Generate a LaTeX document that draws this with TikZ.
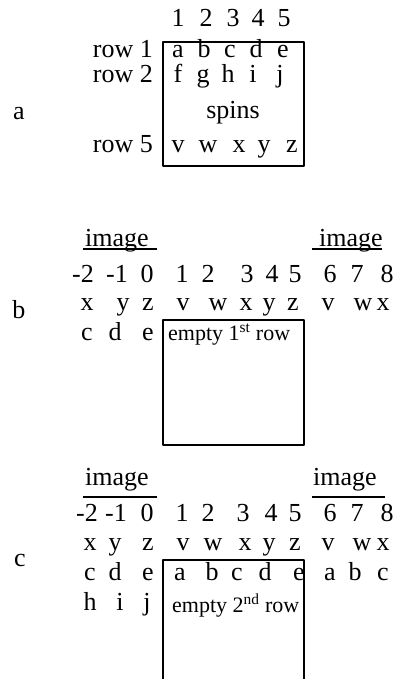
\documentclass[tikz,border=0pt]{standalone}
\usepackage{fontspec}
\setmainfont{Liberation Serif}
\begin{document}
\begin{tikzpicture}[x=1pt,y=-1pt,
  t/.style={inner sep=0pt, anchor=base, font=\fontsize{26}{29}\selectfont},
  tl/.style={t, anchor=base west},
  tr/.style={t, anchor=base east},
  small/.style={inner sep=0pt, anchor=base west, font=\fontsize{22}{25}\selectfont},
  frame/.style={line width=1.3pt, line join=round},
  rule/.style={line width=1.3pt}]
\useasboundingbox (0,0) rectangle (392,679);
% ---------- panel a ----------
\node[t] (la) at (19,120) {a};
\foreach \x/\s [count=\i] in {178/1,206/2,233/3,258/4,284/5}
  \node[t] (an\i) at (\x,27) {\s};
\node[tr] (ar1) at (153,58) {row 1};
\node[tr] (ar2) at (153,83) {row 2};
\node[tr] (ar5) at (153,153) {row 5};
\foreach \x/\s [count=\i] in {178/a,204/b,230/c,256/d,283/e}
  \node[t] (aa\i) at (\x,58) {\s};
\foreach \x/\s [count=\i] in {178/f,203/g,228/h,253/i,280/j}
  \node[t] (ab\i) at (\x,83) {\s};
\node[t] (aspins) at (233,119) {spins};
\foreach \x/\s [count=\i] in {178/v,208/w,239/x,264/y,292/z}
  \node[t] (ac\i) at (\x,153) {\s};
\draw[frame] (163,42) rectangle (304,166);
% ---------- panel b ----------
\node[t] (lb) at (19,318) {b};
\node[tl] (bimgL) at (85,246) {image};
\node[tl] (bimgR) at (319,246) {image};
\draw[rule] (83,249) -- (157,249);
\draw[rule] (312,249) -- (382,249);
\foreach \x/\s [count=\i] in {83/-2,117/-1,147/0,182/1,208/2,247/3,272/4,295/5,330/6,357/7,387/8}
  \node[t] (bn\i) at (\x,282) {\s};
\foreach \x/\s [count=\i] in {87/x,123/y,148/z,183/v,218/w,246/x,269/y,293/z,328/v,363/w,383/x}
  \node[t] (bl\i) at (\x,310) {\s};
\foreach \x/\s [count=\i] in {87/c,115/d,148/e}
  \node[t] (bm\i) at (\x,340) {\s};
\node[small] (bempty) at (168,340) {empty 1\textsuperscript{st} row};
\draw[frame] (163,320) rectangle (304,445);
% ---------- panel c ----------
\node[t] (lc) at (20,566) {c};
\node[tl] (cimgL) at (85,485) {image};
\node[tl] (cimgR) at (313,485) {image};
\draw[rule] (83,497) -- (157,497);
\draw[rule] (312,497) -- (385,497);
\foreach \x/\s [count=\i] in {87/-2,116/-1,147/0,182/1,208/2,243/3,271/4,295/5,330/6,357/7,387/8}
  \node[t] (cn\i) at (\x,521) {\s};
\foreach \x/\s [count=\i] in {90/x,115/y,148/z,183/v,213/w,245/x,269/y,295/z,328/v,362/w,383/x}
  \node[t] (cl\i) at (\x,550) {\s};
\foreach \x/\s [count=\i] in {90/c,115/d,148/e,180/a,212/b,237/c,265/d,299/e,330/a,355/b,383/c}
  \node[t] (cm\i) at (\x,580) {\s};
\foreach \x/\s [count=\i] in {90/h,120/i,147/j}
  \node[t] (ch\i) at (\x,610) {\s};
\node[small] (cempty) at (172,612) {empty 2\textsuperscript{nd} row};
\draw[frame] (163,690) -- (163,560) -- (304,560) -- (304,690);
\end{tikzpicture}
\end{document}
